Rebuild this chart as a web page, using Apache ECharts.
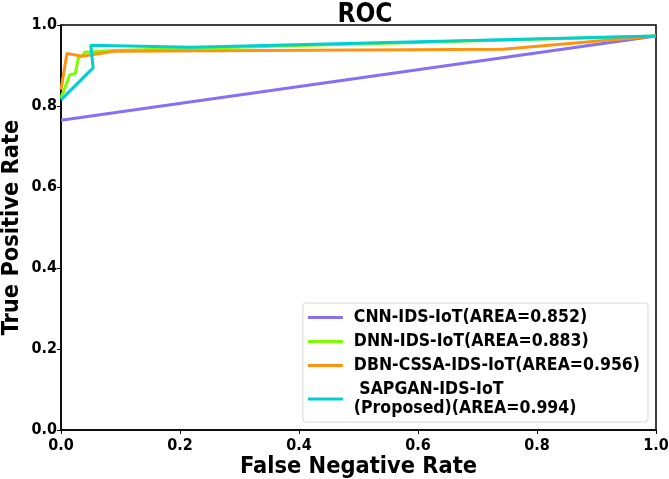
<!DOCTYPE html>
<html><head><meta charset="utf-8">
<script src="https://cdn.jsdelivr.net/npm/echarts@6/dist/echarts.min.js"></script>
<style>html,body{margin:0;padding:0;background:#fff}#c{width:669px;height:479px}</style>
</head><body><div id="c"></div>
<script>
var seriesNames = ['CNN-IDS-IoT(AREA=0.852)', 'DNN-IDS-IoT(AREA=0.883)', 'DBN-CSSA-IDS-IoT(AREA=0.956)', ' SAPGAN-IDS-IoT\n(Proposed)(AREA=0.994)'];
var colors = ['#8470f5', '#7cfc00', '#ff930f', '#00cfd1'];
var cnnX = [0, 1];
var cnnY = [0.765, 0.973];
var dnnX = [0, 0.015, 0.024, 0.029, 0.037, 0.04, 0.09, 1];
var dnnY = [0.82, 0.877, 0.88, 0.918, 0.926, 0.933, 0.937, 0.973];
var dbnX = [0, 0.01, 0.035, 0.09, 0.743, 1];
var dbnY = [0.84, 0.93, 0.923, 0.935, 0.94, 0.973];
var sapX = [0, 0.054, 0.05, 0.22, 1];
var sapY = [0.815, 0.894, 0.95, 0.945, 0.973];
var tickLabels = ['0.0', '0.2', '0.4', '0.6', '0.8', '1.0'];

function pairs(xs, ys) { return xs.map(function (x, i) { return [x, ys[i]]; }); }
var allX = [cnnX, dnnX, dbnX, sapX];
var allY = [cnnY, dnnY, dbnY, sapY];
var F = '"DejaVu Sans Condensed", "DejaVu Sans"';
var series = seriesNames.map(function (n, i) {
  return { name: n, type: 'line', data: pairs(allX[i], allY[i]), showSymbol: false, symbol: 'none',
    lineStyle: { color: colors[i], width: 3 }, itemStyle: { color: colors[i] }, z: 2 + i, animation: false };
});
function axisCommon(name, gap, nsize, margin) {
  return {
    type: 'value', min: 0, max: 1, interval: 0.2, name: name, nameLocation: 'middle', nameGap: gap,
    nameMoveOverlap: false,
    nameTextStyle: { fontFamily: F, fontWeight: 'bold', fontSize: nsize, color: '#000' },
    axisLine: { show: true, lineStyle: { color: '#000', width: 1.5 } },
    axisTick: { show: true, length: 4, lineStyle: { color: '#000', width: 1 } },
    axisLabel: { fontFamily: F, fontWeight: 'bold', fontSize: 16, color: '#000', margin: margin,
      formatter: function (v) { return tickLabels[Math.round(v / 0.2)]; } },
    splitLine: { show: false }
  };
}
var xa = axisCommon('False Negative Rate', 25, 23.4, 8);
var ya = axisCommon('True Positive Rate', 38, 23.4, 4);
var chart = echarts.init(document.getElementById('c'), null, { renderer: 'canvas' });
chart.setOption({
  animation: false,
  backgroundColor: '#fff',
  title: { text: 'ROC', left: 360, textAlign: 'center', top: -3,
    textStyle: { fontFamily: F, fontWeight: 'bold', fontSize: 26, color: '#000' } },
  grid: { left: 61, right: 13, top: 25, bottom: 49, show: true, borderColor: '#000', borderWidth: 1.5,
    containLabel: false, outerBoundsMode: 'none' },
  xAxis: xa,
  yAxis: ya,
  legend: {
    orient: 'vertical', right: 21, bottom: 57, data: seriesNames,
    backgroundColor: '#fff', borderColor: '#d8d8d8', borderWidth: 1, borderRadius: 3,
    padding: [5, 8, 4, 5], itemGap: 5, itemWidth: 35, itemHeight: 3, icon: 'rect',
    textStyle: { fontFamily: F, fontWeight: 'bold', fontSize: 17.5, color: '#000', lineHeight: 19, padding: [0, 0, 0, 6] }
  },
  series: series
});
</script></body></html>
